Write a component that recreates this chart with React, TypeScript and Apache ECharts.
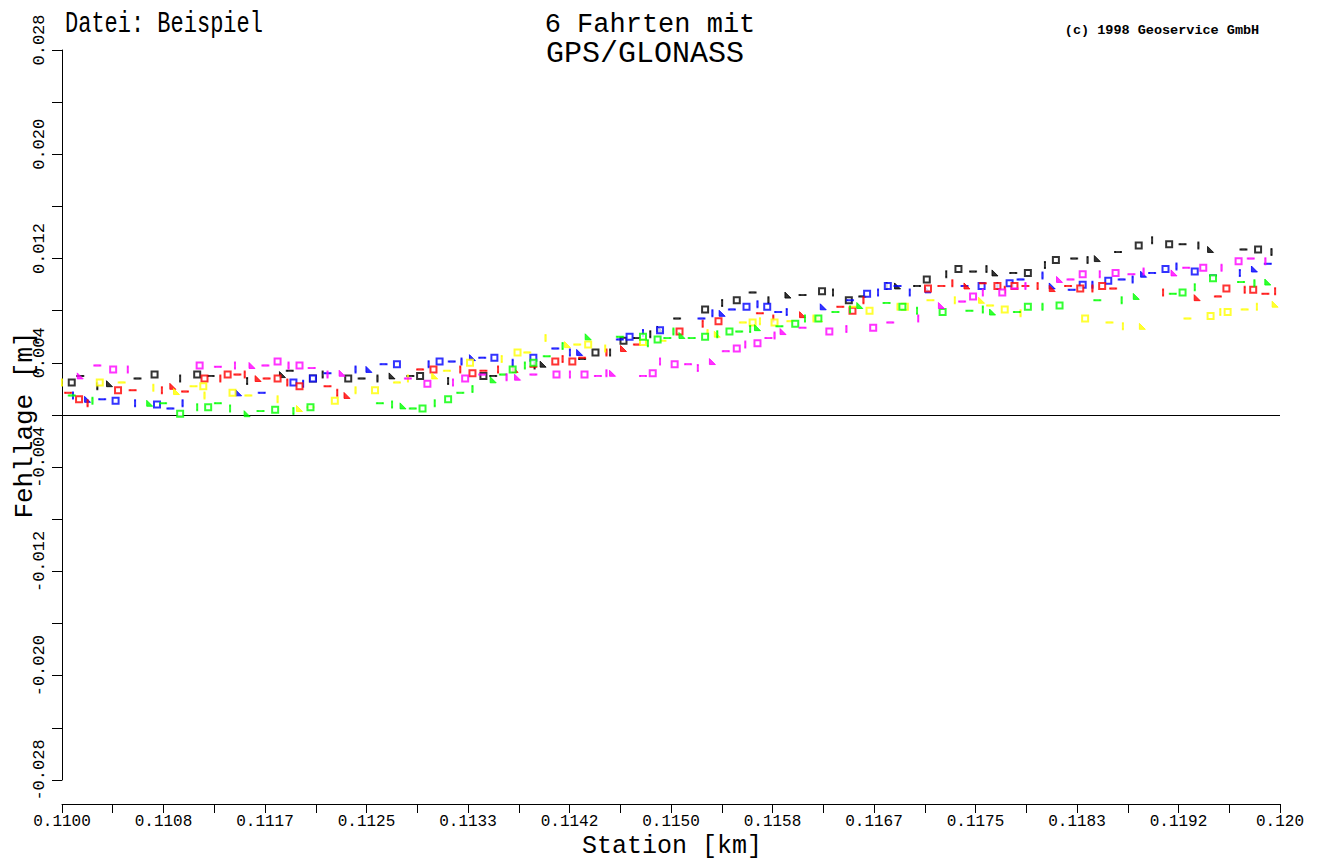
import React, { useEffect, useRef } from 'react';
import * as echarts from 'echarts';

// Tick labels
const xTickLabels = ['0.1100', '0.1108', '0.1117', '0.1125', '0.1133', '0.1142', '0.1150', '0.1158', '0.1167', '0.1175', '0.1183', '0.1192', '0.120'];
const yTickLabels = ['-0.028', '', '-0.020', '', '-0.012', '', '-0.004', '', '0.004', '', '0.012', '', '0.020', '', '0.028'];
const xAxisTitle = 'Station [km]';
const yAxisTitle = 'Fehllage [m]';

// [Station km, Fehllage m]
const fahrtSchwarz = [
  [0.11008, 0.0025], [0.11015, 0.0030], [0.11029, 0.0022], [0.11039, 0.0024], [0.11062, 0.0028], [0.11076, 0.0031],
  [0.11097, 0.0028], [0.11111, 0.0031], [0.11122, 0.0030], [0.11152, 0.0026], [0.11181, 0.0031], [0.11187, 0.0034],
  [0.11206, 0.0028], [0.11214, 0.0031], [0.11235, 0.0028], [0.11246, 0.0028], [0.11259, 0.0028], [0.11271, 0.0030],
  [0.11286, 0.0030], [0.11294, 0.0030], [0.11317, 0.0026], [0.11346, 0.0030], [0.11354, 0.0030], [0.11388, 0.0038],
  [0.11395, 0.0039], [0.11427, 0.0043], [0.11438, 0.0048], [0.11450, 0.0048], [0.11461, 0.0057], [0.11472, 0.0059],
  [0.11483, 0.0062], [0.11491, 0.0066], [0.11505, 0.0074], [0.11528, 0.0081], [0.11542, 0.0086], [0.11554, 0.0088],
  [0.11567, 0.0094], [0.11580, 0.0088], [0.11596, 0.0092], [0.11608, 0.0092], [0.11624, 0.0095], [0.11633, 0.0094],
  [0.11646, 0.0088], [0.11657, 0.0091], [0.11677, 0.0099], [0.11686, 0.0099], [0.11702, 0.0099], [0.11710, 0.0104],
  [0.11726, 0.0108], [0.11736, 0.0112], [0.11748, 0.0110], [0.11759, 0.0112], [0.11766, 0.0109], [0.11781, 0.0109],
  [0.11793, 0.0109], [0.11807, 0.0115], [0.11816, 0.0119], [0.11831, 0.0120], [0.11842, 0.0119], [0.11850, 0.0120],
  [0.11867, 0.0125], [0.11884, 0.0130], [0.11895, 0.0134], [0.11909, 0.0131], [0.11920, 0.0131], [0.11933, 0.0130],
  [0.11943, 0.0127], [0.11970, 0.0127], [0.11982, 0.0127], [0.11993, 0.0125],
];

const fahrtBlau = [
  [0.11009, 0.0015], [0.11021, 0.0012], [0.11033, 0.0012], [0.11044, 0.0011], [0.11060, 0.0009], [0.11078, 0.0008],
  [0.11089, 0.0005], [0.11099, 0.0009], [0.11145, 0.0017], [0.11164, 0.0017], [0.11190, 0.0025], [0.11198, 0.0024],
  [0.11206, 0.0028], [0.11218, 0.0032], [0.11241, 0.0035], [0.11252, 0.0035], [0.11264, 0.0039], [0.11275, 0.0039],
  [0.11301, 0.0039], [0.11310, 0.0041], [0.11320, 0.0041], [0.11328, 0.0041], [0.11337, 0.0044], [0.11345, 0.0044],
  [0.11355, 0.0044], [0.11370, 0.0040], [0.11387, 0.0044], [0.11405, 0.0051], [0.11417, 0.0048], [0.11425, 0.0048],
  [0.11458, 0.0058], [0.11466, 0.0060], [0.11477, 0.0063], [0.11491, 0.0065], [0.11525, 0.0074], [0.11534, 0.0078],
  [0.11542, 0.0078], [0.11550, 0.0081], [0.11562, 0.0083], [0.11571, 0.0085], [0.11579, 0.0083], [0.11588, 0.0079],
  [0.11595, 0.0079], [0.11625, 0.0083], [0.11647, 0.0088], [0.11661, 0.0093], [0.11670, 0.0094], [0.11678, 0.0099],
  [0.11686, 0.0099], [0.11696, 0.0094], [0.11711, 0.0096], [0.11741, 0.0099], [0.11755, 0.0099], [0.11768, 0.0099],
  [0.11778, 0.0101], [0.11787, 0.0104], [0.11805, 0.0107], [0.11813, 0.0099], [0.11829, 0.0096], [0.11838, 0.0100],
  [0.11846, 0.0100], [0.11859, 0.0103], [0.11870, 0.0104], [0.11879, 0.0104], [0.11888, 0.0108], [0.11895, 0.0109],
  [0.11906, 0.0112], [0.11915, 0.0114], [0.11930, 0.0110], [0.11945, 0.0107], [0.11967, 0.0109], [0.11979, 0.0112],
  [0.11990, 0.0116],
];

const fahrtRot = [
  [0.11005, 0.0017], [0.11014, 0.0012], [0.11021, 0.0009], [0.11046, 0.0019], [0.11058, 0.0019], [0.11082, 0.0019],
  [0.11091, 0.0022], [0.11101, 0.0018], [0.11117, 0.0028], [0.11130, 0.0028], [0.11136, 0.0031], [0.11144, 0.0031],
  [0.11150, 0.0031], [0.11161, 0.0028], [0.11168, 0.0028], [0.11177, 0.0028], [0.11185, 0.0025], [0.11195, 0.0022],
  [0.11218, 0.0022], [0.11226, 0.0017], [0.11234, 0.0015], [0.11294, 0.0035], [0.11305, 0.0035], [0.11327, 0.0035],
  [0.11337, 0.0032], [0.11346, 0.0034], [0.11358, 0.0035], [0.11372, 0.0035], [0.11387, 0.0037], [0.11405, 0.0041],
  [0.11411, 0.0043], [0.11419, 0.0041], [0.11427, 0.0044], [0.11447, 0.0048], [0.11461, 0.0051], [0.11472, 0.0054],
  [0.11507, 0.0064], [0.11526, 0.0070], [0.11539, 0.0072], [0.11573, 0.0078], [0.11584, 0.0074], [0.11608, 0.0077],
  [0.11639, 0.0083], [0.11649, 0.0080], [0.11658, 0.0088], [0.11711, 0.0097], [0.11722, 0.0099], [0.11731, 0.0101],
  [0.11743, 0.0099], [0.11756, 0.0101], [0.11768, 0.0099], [0.11774, 0.0096], [0.11782, 0.0099], [0.11791, 0.0099],
  [0.11801, 0.0099], [0.11813, 0.0097], [0.11826, 0.0099], [0.11836, 0.0097], [0.11846, 0.0097], [0.11854, 0.0099],
  [0.11863, 0.0097], [0.11904, 0.0094], [0.11932, 0.0090], [0.11949, 0.0091], [0.11956, 0.0097], [0.11971, 0.0096],
  [0.11978, 0.0096], [0.11988, 0.0093], [0.11996, 0.0095],
];

const fahrtGelb = [
  [0.11000, 0.0025], [0.11031, 0.0025], [0.11049, 0.0025], [0.11075, 0.0021], [0.11094, 0.0018], [0.11108, 0.0022],
  [0.11116, 0.0022], [0.11117, 0.0015], [0.11140, 0.0017], [0.11153, 0.0015], [0.11177, 0.0012], [0.11195, 0.0005],
  [0.11204, 0.0006], [0.11224, 0.0011], [0.11241, 0.0019], [0.11257, 0.0019], [0.11275, 0.0025], [0.11284, 0.0028],
  [0.11306, 0.0030], [0.11316, 0.0034], [0.11335, 0.0040], [0.11361, 0.0043], [0.11374, 0.0048], [0.11382, 0.0048],
  [0.11397, 0.0059], [0.11415, 0.0054], [0.11423, 0.0054], [0.11432, 0.0054], [0.11446, 0.0051], [0.11477, 0.0056],
  [0.11493, 0.0057], [0.11530, 0.0063], [0.11538, 0.0062], [0.11559, 0.0071], [0.11567, 0.0071], [0.11573, 0.0072],
  [0.11585, 0.0071], [0.11598, 0.0072], [0.11617, 0.0074], [0.11622, 0.0074], [0.11649, 0.0083], [0.11663, 0.0080],
  [0.11686, 0.0083], [0.11692, 0.0083], [0.11713, 0.0088], [0.11733, 0.0088], [0.11755, 0.0088], [0.11762, 0.0084],
  [0.11774, 0.0081], [0.11787, 0.0078], [0.11840, 0.0074], [0.11860, 0.0071], [0.11871, 0.0068], [0.11887, 0.0068],
  [0.11924, 0.0074], [0.11943, 0.0076], [0.11951, 0.0079], [0.11957, 0.0079], [0.11971, 0.0081], [0.11981, 0.0083],
  [0.11996, 0.0085],
];

const fahrtGruen = [
  [0.11008, 0.0015], [0.11025, 0.0011], [0.11072, 0.0009], [0.11083, 0.0009], [0.11097, 0.0001], [0.11111, 0.0006],
  [0.11120, 0.0006], [0.11128, 0.0009], [0.11138, 0.0005], [0.11152, 0.0001], [0.11163, 0.0003], [0.11175, 0.0004],
  [0.11190, 0.0003], [0.11204, 0.0006], [0.11261, 0.0009], [0.11271, 0.0008], [0.11280, 0.0007], [0.11288, 0.0005],
  [0.11296, 0.0005], [0.11306, 0.0009], [0.11317, 0.0012], [0.11327, 0.0017], [0.11337, 0.0020], [0.11354, 0.0027],
  [0.11362, 0.0031], [0.11370, 0.0035], [0.11380, 0.0038], [0.11387, 0.0040], [0.11398, 0.0045], [0.11411, 0.0053],
  [0.11432, 0.0060], [0.11458, 0.0060], [0.11477, 0.0060], [0.11481, 0.0055], [0.11489, 0.0058], [0.11497, 0.0059],
  [0.11502, 0.0064], [0.11509, 0.0061], [0.11517, 0.0059], [0.11528, 0.0060], [0.11538, 0.0062], [0.11548, 0.0064],
  [0.11556, 0.0064], [0.11565, 0.0066], [0.11571, 0.0067], [0.11589, 0.0068], [0.11602, 0.0070], [0.11610, 0.0074],
  [0.11621, 0.0074], [0.11635, 0.0079], [0.11647, 0.0081], [0.11655, 0.0084], [0.11677, 0.0086], [0.11690, 0.0083],
  [0.11702, 0.0080], [0.11723, 0.0079], [0.11745, 0.0080], [0.11756, 0.0081], [0.11764, 0.0079], [0.11784, 0.0079],
  [0.11793, 0.0083], [0.11805, 0.0083], [0.11819, 0.0084], [0.11850, 0.0088], [0.11870, 0.0088], [0.11882, 0.0091],
  [0.11912, 0.0093], [0.11920, 0.0094], [0.11930, 0.0098], [0.11945, 0.0105], [0.11968, 0.0102], [0.11979, 0.0101],
  [0.11990, 0.0102],
];

const fahrtMagenta = [
  [0.11015, 0.0030], [0.11029, 0.0038], [0.11042, 0.0035], [0.11054, 0.0035], [0.11113, 0.0038], [0.11128, 0.0037],
  [0.11142, 0.0038], [0.11156, 0.0038], [0.11167, 0.0038], [0.11177, 0.0041], [0.11186, 0.0038], [0.11195, 0.0038],
  [0.11205, 0.0036], [0.11218, 0.0031], [0.11230, 0.0032], [0.11284, 0.0028], [0.11300, 0.0024], [0.11321, 0.0025],
  [0.11331, 0.0028], [0.11345, 0.0031], [0.11365, 0.0029], [0.11374, 0.0029], [0.11387, 0.0031], [0.11406, 0.0031],
  [0.11417, 0.0031], [0.11429, 0.0031], [0.11440, 0.0030], [0.11447, 0.0032], [0.11452, 0.0032], [0.11477, 0.0030],
  [0.11485, 0.0032], [0.11491, 0.0041], [0.11503, 0.0039], [0.11514, 0.0039], [0.11522, 0.0036], [0.11534, 0.0041],
  [0.11545, 0.0049], [0.11554, 0.0051], [0.11561, 0.0054], [0.11571, 0.0055], [0.11580, 0.0059], [0.11585, 0.0061],
  [0.11592, 0.0064], [0.11608, 0.0067], [0.11630, 0.0064], [0.11644, 0.0066], [0.11666, 0.0067], [0.11680, 0.0071],
  [0.11703, 0.0074], [0.11722, 0.0084], [0.11739, 0.0087], [0.11748, 0.0091], [0.11756, 0.0094], [0.11772, 0.0094],
  [0.11782, 0.0097], [0.11791, 0.0099], [0.11819, 0.0104], [0.11828, 0.0104], [0.11838, 0.0108], [0.11852, 0.0108],
  [0.11865, 0.0109], [0.11878, 0.0108], [0.11888, 0.0110], [0.11913, 0.0109], [0.11923, 0.0113], [0.11937, 0.0113],
  [0.11952, 0.0113], [0.11966, 0.0118], [0.11976, 0.0120], [0.11988, 0.0118],
];

const seriesNames = ['Fahrt 1', 'Fahrt 2', 'Fahrt 3', 'Fahrt 4', 'Fahrt 5', 'Fahrt 6'];
const seriesColors = ['#000000', '#0000ff', '#ff0000', '#ffff00', '#00ff00', '#ff00ff'];
const seriesData = [fahrtSchwarz, fahrtBlau, fahrtRot, fahrtGelb, fahrtGruen, fahrtMagenta];

// marker glyph cycle (plotter style marks)
const markerShapes = ['emptyRect', 'rect', 'rect', 'path://M0 0L0 10L10 10Z', 'rect', 'emptyRect', 'rect'];
const markerSizes: any[] = [6, [6, 1.5], [1.5, 6], 6, [6, 1.5], 6, [1.5, 6]];

export default function App() {
  const ref = useRef<HTMLDivElement>(null);
  useEffect(() => {
    if (!ref.current) return;
    const chart = echarts.init(ref.current, null, { renderer: 'svg' });
    const font = 'Liberation Mono';
    const series: any[] = seriesData.map((data, si) => ({
      name: seriesNames[si],
      type: 'scatter',
      data,
      symbol: (_v: any, p: any) => markerShapes[(p.dataIndex + si * 2) % markerShapes.length],
      symbolSize: (_v: any, p: any) => markerSizes[(p.dataIndex + si * 2) % markerSizes.length],
      itemStyle: { color: seriesColors[si], borderColor: seriesColors[si], borderWidth: 1 },
      emphasis: { disabled: true },
      z: 3,
    }));
    series[0].markLine = {
      silent: true,
      symbol: ['none', 'none'],
      label: { show: false },
      lineStyle: { color: '#000', width: 1, type: 'solid' },
      data: [{ yAxis: 0 }],
      z: 1,
    };
    chart.setOption({
      animation: false,
      backgroundColor: '#fff',
      grid: { left: 62, right: 42, top: 50, bottom: 79, containLabel: false, outerBoundsMode: 'none' },
      xAxis: {
        type: 'value',
        min: 0.11,
        max: 0.12,
        interval: 1 / 1200,
        offset: 24,
        axisLine: { show: true, onZero: false, lineStyle: { color: '#000', width: 1 } },
        axisTick: { show: true, length: 9, lineStyle: { color: '#000', width: 1 } },
        minorTick: { show: true, splitNumber: 2, length: 9, lineStyle: { color: '#000', width: 1 } },
        splitLine: { show: false },
        axisLabel: {
          fontFamily: font,
          fontSize: 16,
          color: '#000',
          margin: 10,
          showMinLabel: true,
          showMaxLabel: true,
          hideOverlap: false,
          formatter: (v: number) => xTickLabels[Math.round((v - 0.11) * 1200)] ?? '',
        },
      },
      yAxis: {
        type: 'value',
        min: -0.028,
        max: 0.028,
        interval: 0.004,
        axisLine: { show: true, onZero: false, lineStyle: { color: '#000', width: 1 } },
        axisTick: { show: true, length: 10, lineStyle: { color: '#000', width: 1 } },
        splitLine: { show: false },
        axisLabel: {
          fontFamily: font,
          fontSize: 17,
          color: '#000',
          rotate: 90,
          margin: 14,
          padding: [0, 0, 0, 20],
          showMinLabel: true,
          showMaxLabel: true,
          hideOverlap: false,
          formatter: (v: number) => yTickLabels[Math.round((v + 0.028) / 0.004)] ?? '',
        },
      },
      graphic: [
        {
          type: 'text', left: 65, top: 10, scaleY: 1.3,
          style: { text: 'Datei: Beispiel', fontFamily: font, fontSize: 22, fill: '#000' },
        },
        {
          type: 'text', x: 650, y: 11,
          style: { text: '6 Fahrten mit', fontFamily: font, fontSize: 27, fill: '#000', textAlign: 'center', align: 'center', textVerticalAlign: 'top', verticalAlign: 'top' },
        },
        {
          type: 'text', x: 645, y: 39,
          style: { text: 'GPS/GLONASS', fontFamily: font, fontSize: 30, fill: '#000', textAlign: 'center', align: 'center', textVerticalAlign: 'top', verticalAlign: 'top' },
        },
        {
          type: 'text', x: 1162, y: 23,
          style: { text: '(c) 1998 Geoservice GmbH', fontFamily: font, fontSize: 13.5, fontWeight: 'bold', fill: '#000', textAlign: 'center', align: 'center', textVerticalAlign: 'top', verticalAlign: 'top' },
        },
        {
          type: 'text', x: 672, y: 846,
          style: { text: xAxisTitle, fontFamily: font, fontSize: 25, fill: '#000', textAlign: 'center', align: 'center', textVerticalAlign: 'middle', verticalAlign: 'middle' },
        },
        {
          type: 'text', x: 25, y: 425, rotation: Math.PI / 2,
          style: { text: yAxisTitle, fontFamily: font, fontSize: 26, fill: '#000', textAlign: 'center', align: 'center', textVerticalAlign: 'middle', verticalAlign: 'middle' },
        },
      ],
      series,
    });
    return () => chart.dispose();
  }, []);
  return <div ref={ref} style={{ position: 'fixed', left: 0, top: 0, width: 1322, height: 859 }} />;
}
